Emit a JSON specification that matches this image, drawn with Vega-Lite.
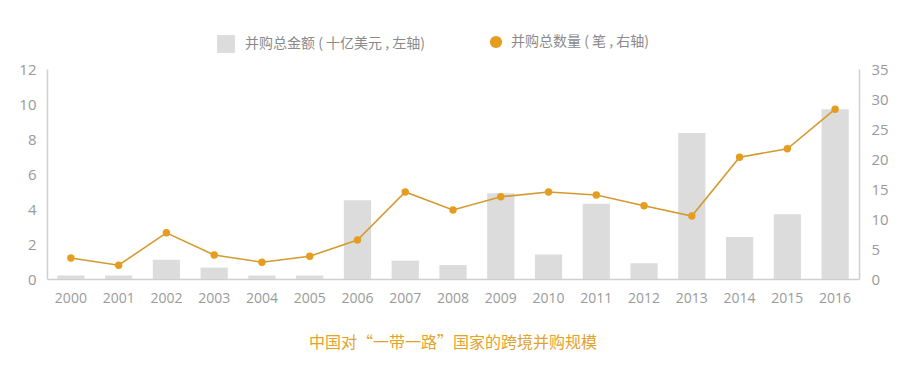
{
  "$schema": "https://vega.github.io/schema/vega-lite/v6.json",
  "autosize": {"type": "none"},
  "width": 812,
  "height": 210,
  "padding": {"left": 47, "top": 69, "right": 58, "bottom": 96},
  "background": "#ffffff",
  "config": {
    "view": {"stroke": null},
    "font": "Noto Sans CJK SC",
    "axis": {"labelFont": "Open Sans", "labelColor": "#9a9a9a", "domainColor": "#cfcfcf", "grid": false, "ticks": false, "title": null}
  },
  "title": {
    "text": "中国对“一带一路”国家的跨境并购规模",
    "orient": "bottom",
    "anchor": "middle",
    "offset": 30,
    "fontSize": 16,
    "fontWeight": "normal",
    "color": "#e3a22c",
    "font": "Noto Sans CJK SC"
  },
  "data": {
    "values": [
      {"year": "2000", "amount": 0.2, "count": 3.5},
      {"year": "2001", "amount": 0.2, "count": 2.3},
      {"year": "2002", "amount": 1.1, "count": 7.7},
      {"year": "2003", "amount": 0.65, "count": 4.0},
      {"year": "2004", "amount": 0.2, "count": 2.8},
      {"year": "2005", "amount": 0.2, "count": 3.8},
      {"year": "2006", "amount": 4.5, "count": 6.5},
      {"year": "2007", "amount": 1.05, "count": 14.5},
      {"year": "2008", "amount": 0.8, "count": 11.5},
      {"year": "2009", "amount": 4.9, "count": 13.7},
      {"year": "2010", "amount": 1.4, "count": 14.5},
      {"year": "2011", "amount": 4.3, "count": 14.0},
      {"year": "2012", "amount": 0.9, "count": 12.2},
      {"year": "2013", "amount": 8.35, "count": 10.5},
      {"year": "2014", "amount": 2.4, "count": 20.3},
      {"year": "2015", "amount": 3.7, "count": 21.7},
      {"year": "2016", "amount": 9.7, "count": 28.3}
    ]
  },
  "encoding": {
    "x": {
      "field": "year", "type": "ordinal",
      "scale": {"paddingInner": 0.43, "paddingOuter": 0.215},
      "axis": {"labelAngle": 0, "labelFontSize": 14, "labelPadding": 12, "domainWidth": 1.5}
    }
  },
  "layer": [
    {
      "mark": {"type": "bar", "color": "#dcdcdc"},
      "encoding": {
        "y": {
          "field": "amount", "type": "quantitative",
          "scale": {"domain": [0, 12]},
          "axis": {"values": [0, 2, 4, 6, 8, 10, 12], "labelFontSize": 15, "labelPadding": 11, "domainWidth": 1.5, "orient": "left"}
        },
        "fill": {
          "datum": "并购总金额 ( 十亿美元 , 左轴)",
          "scale": {"range": ["#dcdcdc"]},
          "legend": {
            "orient": "none", "legendX": 170, "legendY": -34,
            "symbolType": "square", "symbolSize": 320, "symbolStrokeWidth": 0,
            "labelFontSize": 14, "labelColor": "#8a8a8a", "labelFont": "Noto Sans CJK SC", "labelOffset": 10, "labelLimit": 400, "title": null
          }
        }
      }
    },
    {
      "encoding": {
        "y": {
          "field": "count", "type": "quantitative",
          "scale": {"domain": [0, 35]},
          "axis": {"orient": "right", "values": [0, 5, 10, 15, 20, 25, 30, 35], "labelFontSize": 15, "labelPadding": 12, "domainWidth": 1.5}
        }
      },
      "layer": [
        {
          "mark": {"type": "line", "color": "#d49a2e", "strokeWidth": 1.6}
        },
        {
          "mark": {"type": "point", "filled": true, "size": 55, "opacity": 1},
          "encoding": {
            "color": {
              "datum": "并购总数量 ( 笔 , 右轴)",
              "scale": {"range": ["#e69c1e"]},
              "legend": {
                "orient": "none", "legendX": 442, "legendY": -34,
                "symbolType": "circle", "symbolSize": 150,
                "labelFontSize": 14, "labelColor": "#8a8a8a", "labelFont": "Noto Sans CJK SC", "labelOffset": 8, "labelLimit": 400, "title": null
              }
            }
          }
        }
      ]
    }
  ],
  "resolve": {"scale": {"y": "independent"}}
}
